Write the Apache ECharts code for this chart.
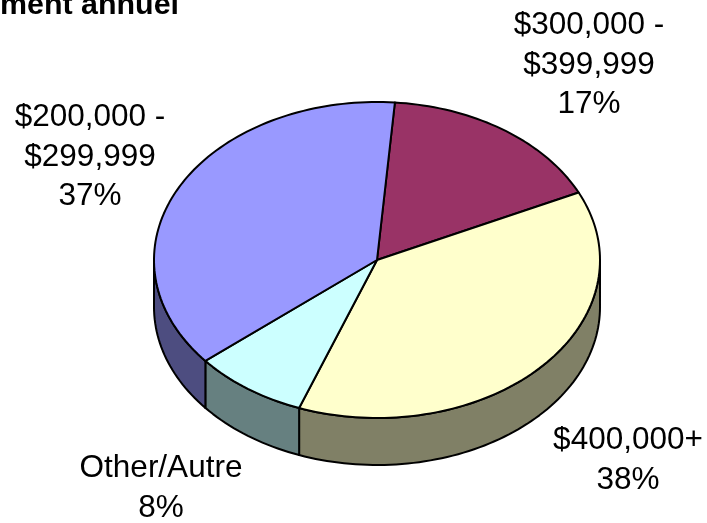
<!DOCTYPE html>
<html>
<head>
<meta charset="utf-8">
<style>html,body{margin:0;padding:0;background:#fff}#c{width:707px;height:523px}</style>
<script src="https://cdn.jsdelivr.net/npm/echarts@6/dist/echarts.min.js"></script>
</head>
<body>
<div id="c"></div>
<script>
const titleText = 'ment annuel';
const categories = ['$300,000 -\n$399,999', '$400,000+', 'Other/Autre', '$200,000 -\n$299,999'];
const values = [16.7, 37.7, 8.3, 37.3];
const topColors = ['#993366', '#FFFFCC', '#CCFFFF', '#9999FF'];
const sideColors = ['#4D1A33', '#808066', '#668080', '#4D4D80'];
const labelAnchors = [[589, 65], [628, 460.5], [161, 488.5], [90, 157]];

const CX = 377, CY = 260, RX = 223, RY = 158, DEPTH = 47, START = 4.6;
const total = values.reduce((a, b) => a + b, 0);
function pt(deg, dy) {
  const t = deg * Math.PI / 180;
  return [CX + RX * Math.sin(t), CY - RY * Math.cos(t) + (dy || 0)];
}
function arc(a, b, dy) {
  const pts = [], n = Math.max(2, Math.ceil(Math.abs(b - a) / 1.5));
  for (let i = 0; i <= n; i++) pts.push(pt(a + (b - a) * i / n, dy));
  return pts;
}
function range(i) {
  let s = START;
  for (let k = 0; k < i; k++) s += values[k] / total * 360;
  return [s, s + values[i] / total * 360];
}
const lineStyle = { stroke: '#000', lineWidth: 2, lineJoin: 'round' };
function renderSide(params, api) {
  const i = params.dataIndex, r = range(i);
  const a = Math.max(r[0], 90), b = Math.min(r[1], 270);
  if (a >= b) return { type: 'group', children: [] };
  const points = arc(a, b, 0).concat(arc(b, a, DEPTH));
  return { type: 'polygon', shape: { points }, style: Object.assign({ fill: sideColors[i] }, lineStyle) };
}
function renderTop(params, api) {
  const i = params.dataIndex, r = range(i);
  const points = [[CX, CY]].concat(arc(r[0], r[1], 0));
  return {
    type: 'group',
    children: [
      { type: 'polygon', shape: { points }, style: Object.assign({ fill: topColors[i] }, lineStyle) },
      { type: 'text', x: labelAnchors[i][0], y: labelAnchors[i][1],
        style: { text: categories[i] + '\n' + Math.round(api.value(0)) + '%', align: 'center', verticalAlign: 'middle',
          fontFamily: 'Liberation Sans', fontSize: 31.5, lineHeight: 39.5, fill: '#000' } }
    ]
  };
}
const chart = echarts.init(document.getElementById('c'), null, { renderer: 'canvas' });
chart.setOption({
  animation: false,
  backgroundColor: '#fff',
  graphic: [{ type: 'text', x: 0, y: 6, style: { text: titleText, fontFamily: 'Liberation Sans', fontWeight: 'bold', fontSize: 30.4, fill: '#000', align: 'left', verticalAlign: 'middle' } }],
  series: [
    { type: 'custom', coordinateSystem: 'none', silent: true, z: 1, data: values.map(v => [v]), renderItem: renderSide },
    { type: 'custom', coordinateSystem: 'none', silent: true, z: 2, data: values.map(v => [v]), renderItem: renderTop }
  ]
});
</script>
</body>
</html>
